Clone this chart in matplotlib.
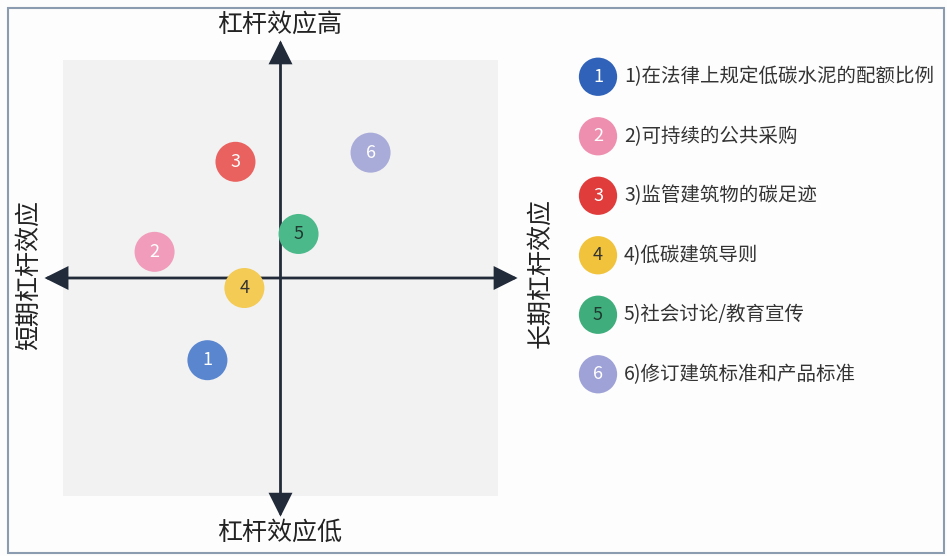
import matplotlib
matplotlib.use('Agg')
import matplotlib.pyplot as plt
from matplotlib.patches import Rectangle

plt.rcParams['font.family'] = ['Noto Sans CJK SC', 'DejaVu Sans']

# policy measures: position on short/long-term (x) and low/high leverage (y)
ids = ['1', '2', '3', '4', '5', '6']
x_vals = [-3.36, -5.79, -2.07, -1.66, 0.83, 4.14]
y_vals = [-3.77, 1.20, 5.33, -0.46, 2.02, 5.75]
labels = ['1)在法律上规定低碳水泥的配额比例', '2)可持续的公共采购', '3)监管建筑物的碳足迹',
          '4)低碳建筑导则', '5)社会讨论/教育宣传', '6)修订建筑标准和产品标准']
dot_colors = ['#5a86d0', '#f09cba', '#e9625f', '#f3cb55', '#4cb98b', '#a9abd9']
leg_colors = ['#2f62b8', '#ee8fb0', '#e03c3c', '#f1c33c', '#3fae7c', '#9fa2d6']
num_colors = ['white', 'white', 'white', '#333333', '#1f3a30', 'white']

fig = plt.figure(figsize=(9.47, 5.56), dpi=100)
fig.patch.set_facecolor('#fdfdfd')

W, H = 947.0, 556.0

# outer frame
fig.patches.append(Rectangle((8 / W, 3 / H), 936 / W, 545 / H, transform=fig.transFigure,
                             fill=False, ec='#8c9cb0', lw=1.5))

ax = fig.add_axes([63 / W, (H - 496) / H, 435 / W, 436 / H])
ax.set_facecolor('#f2f2f2')
ax.set_xlim(-10, 10)
ax.set_ylim(-10, 10)
ax.set_xticks([])
ax.set_yticks([])
for s in ax.spines.values():
    s.set_visible(False)

arrow_style = '<|-|>,head_length=0.7,head_width=0.35'
for xy, xytext in [((10.9, 0), (-10.85, 0)), ((0, 10.9), (0, -10.95))]:
    ax.annotate('', xy=xy, xytext=xytext, annotation_clip=False,
                arrowprops=dict(arrowstyle=arrow_style, color='#222b3a', lw=2.0,
                                mutation_scale=20, shrinkA=0, shrinkB=0,
                                joinstyle='miter'))

ax.scatter(x_vals, y_vals, s=830, c=dot_colors, zorder=5, linewidths=0)
for i in range(len(ids)):
    ax.text(x_vals[i], y_vals[i], ids[i], ha='center', va='center', fontsize=13,
            color=num_colors[i], zorder=6)

# quadrant labels
fig.text(280 / W, 1 - 25 / H, '杠杆效应高', ha='center', va='center', fontsize=18, color='#222222')
fig.text(280 / W, 1 - 533 / H, '杠杆效应低', ha='center', va='center', fontsize=18, color='#222222')
fig.text(29 / W, 1 - 275 / H, '短期杠杆效应', ha='center', va='center', rotation=90,
         fontsize=18, color='#222222')
fig.text(540 / W, 1 - 273 / H, '长期杠杆效应', ha='center', va='center', rotation=90,
         fontsize=18, color='#222222')

# legend
leg = fig.add_axes([570 / W, (H - 404) / H, 377 / W, 357 / H])
leg.set_xlim(0, 377)
leg.set_ylim(6, 0)
leg.axis('off')
ly = [i + 0.5 for i in range(len(ids))]
leg.scatter([28] * len(ids), ly, s=760, c=leg_colors, linewidths=0)
for i in range(len(ids)):
    leg.text(28, ly[i], ids[i], ha='center', va='center', fontsize=13, color=num_colors[i])
    leg.text(54, ly[i], labels[i], ha='left', va='center', fontsize=14, color='#333333')

plt.savefig('out.png', dpi=100)
